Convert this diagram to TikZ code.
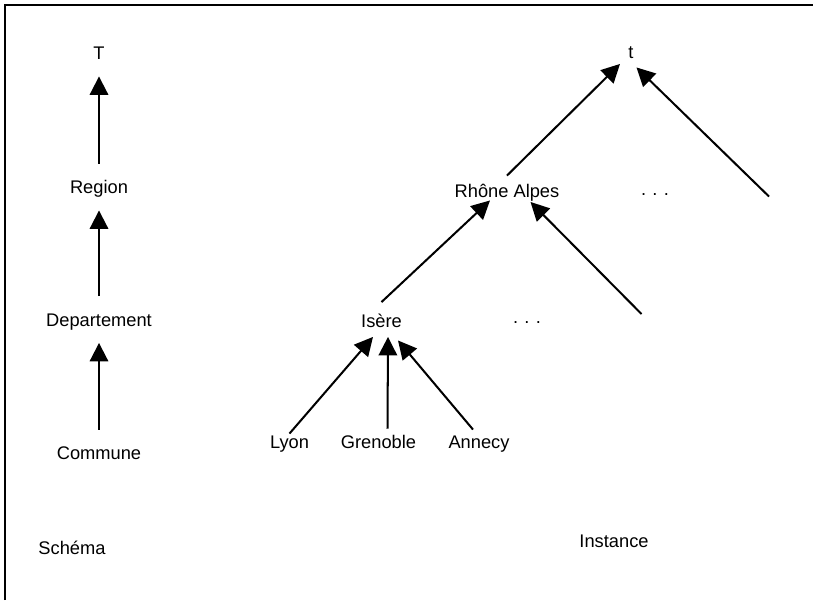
\documentclass[tikz,border=0pt]{standalone}
\usepackage{fontspec}
\setmainfont{Liberation Sans}
\usetikzlibrary{arrows.meta}

\begin{document}
\begin{tikzpicture}[
    lbl/.style={inner sep=1pt, text height=7.5pt, text depth=2pt},
    >={Triangle[length=10.5pt, width=10.5pt]},
    edge/.style={->, line width=1.15pt},
    vedge/.style={edge, shorten <=0.3cm, shorten >=0.22cm},
    font=\fontsize{10.4}{12}\selectfont
]
    \useasboundingbox (0,0) rectangle (16.26,12);
    % cadre (haut et gauche)
    \draw[line width=1.6pt] (0.1,0) -- (0.1,11.9) -- (16.26,11.9);

    % Schéma (colonne de gauche)
    \node[lbl] (T)      at (1.98,10.9) {T};
    \node[lbl] (region) at (1.98,8.22) {Region};
    \node[lbl] (dep)    at (1.98,5.57) {Departement};
    \node[lbl] (commune) at (1.98,2.9) {Commune};
    \node[lbl] (schema) at (1.44,1.0)  {Schéma};

    \draw[vedge] (commune) -- (dep);
    \draw[vedge] (dep) -- (region);
    \draw[vedge] (region) -- (T);

    % Instance (arbre de droite)
    \node[lbl] (t)      at (12.62,10.93) {t};
    \node[lbl] (ra)     at (10.14,8.15)  {Rhône Alpes};
    \node[anchor=base, inner sep=0pt] (dotsA) at (13.1,8.1) {.\hspace{3.6pt}.\hspace{3.6pt}.};
    \node[lbl] (isere)  at (7.63,5.55)   {Isère};
    \node[anchor=base, inner sep=0pt] (dotsB) at (10.54,5.54) {.\hspace{3.6pt}.\hspace{3.6pt}.};
    \node[lbl] (lyon)   at (5.79,3.12)   {Lyon};
    \node[lbl] (gren)   at (7.57,3.12)   {Grenoble};
    \node[lbl] (annecy) at (9.58,3.12)   {Annecy};
    \node[lbl] (inst)   at (12.28,1.15)  {Instance};

    % extrémités libres
    \coordinate (autreR) at (15.38,8.07);
    \coordinate (autreD) at (12.83,5.72);

    % communes -> département
    \draw[edge] (lyon.north) -- ([xshift=-0.17cm, yshift=-0.08cm]isere.south);
    \draw[edge] ([xshift=0.18cm, yshift=0.1cm]gren.north) -- ([xshift=0.13cm, yshift=-0.08cm]isere.south);
    \draw[edge] ([xshift=-0.12cm, yshift=0.08cm]annecy.north) -- ([xshift=0.33cm, yshift=-0.15cm]isere.south);

    % départements -> région
    \draw[edge] ([yshift=0.2cm]isere.north) -- ([xshift=-0.34cm, yshift=0.05cm]ra.south);
    \draw[edge] (autreD) -- ([xshift=0.47cm, yshift=0.02cm]ra.south);

    % régions -> t
    \draw[edge] ([yshift=0.13cm]ra.north) -- ([xshift=-0.22cm]t.south);
    \draw[edge] (autreR) -- ([xshift=0.11cm, yshift=-0.07cm]t.south);
\end{tikzpicture}
\end{document}
